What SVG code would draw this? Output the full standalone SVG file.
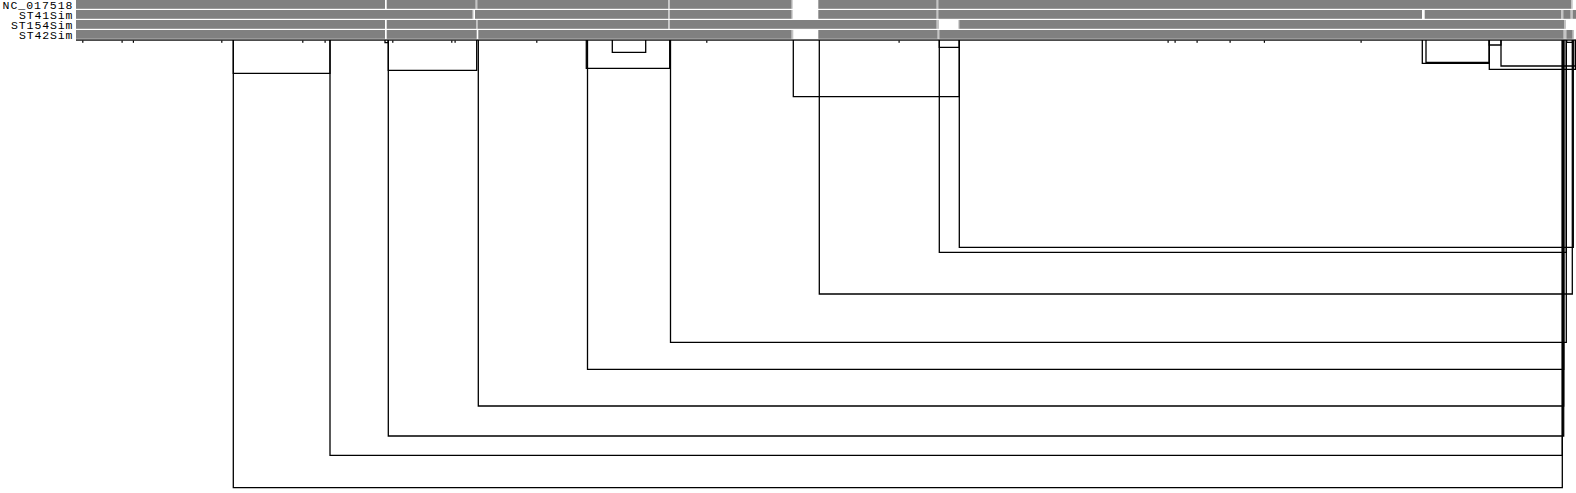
<svg xmlns="http://www.w3.org/2000/svg" width="1576" height="493" viewBox="0 0 1576 493">
<style>
.lbl{font-family:"Liberation Mono","DejaVu Sans Mono",monospace;font-size:11.5px;fill:#000}
.g{fill:#808080}
.lt{fill:#c4c4c4}
.c{fill:none;stroke:#000;stroke-width:1.3}
.tk{fill:#000}
</style>
<rect width="1576" height="493" fill="#fff"/>
<g id="track-NC_017518">
<text class="lbl" x="2.5" y="8.5" textLength="70" lengthAdjust="spacing">NC_017518</text>
<rect class="g" x="76" y="0" width="309" height="8.8"/>
<rect class="g" x="386.7" y="0" width="89" height="8.8"/>
<rect class="lt" x="475.7" y="0" width="1.6" height="8.8"/>
<rect class="g" x="477.3" y="0" width="191" height="8.8"/>
<rect class="lt" x="668.3" y="0" width="1.7" height="8.8"/>
<rect class="g" x="670" y="0" width="121.7" height="8.8"/>
<rect class="lt" x="791.7" y="0" width="1" height="8.8"/>
<rect class="g" x="818.3" y="0" width="118.4" height="8.8"/>
<rect class="lt" x="936.7" y="0" width="1.6" height="8.8"/>
<rect class="g" x="938.3" y="0" width="632.7" height="8.8"/>
<rect class="lt" x="1571" y="0" width="1.7" height="8.8"/>
</g>
<g id="track-ST41Sim">
<text class="lbl" x="19" y="18.5" textLength="53.5" lengthAdjust="spacing">ST41Sim</text>
<rect class="g" x="76" y="10" width="396.7" height="8.8"/>
<rect class="lt" x="472.7" y="10" width="0.8" height="8.8"/>
<rect class="g" x="475" y="10" width="193.3" height="8.8"/>
<rect class="lt" x="668.3" y="10" width="1.7" height="8.8"/>
<rect class="g" x="670" y="10" width="121.7" height="8.8"/>
<rect class="lt" x="791.7" y="10" width="1" height="8.8"/>
<rect class="g" x="818.3" y="10" width="118.4" height="8.8"/>
<rect class="lt" x="936.7" y="10" width="1.6" height="8.8"/>
<rect class="g" x="938.3" y="10" width="483.7" height="8.8"/>
<rect class="g" x="1424.7" y="10" width="136.3" height="8.8"/>
<rect class="lt" x="1561" y="10" width="2.3" height="8.8"/>
<rect class="g" x="1563.3" y="10" width="7.4" height="8.8"/>
<rect class="lt" x="1570.7" y="10" width="2" height="8.8"/>
<rect class="g" x="1572.7" y="10" width="3.3" height="8.8"/>
</g>
<g id="track-ST154Sim">
<text class="lbl" x="11" y="28.5" textLength="61.5" lengthAdjust="spacing">ST154Sim</text>
<rect class="g" x="76" y="20" width="309" height="8.8"/>
<rect class="g" x="386.7" y="20" width="89.3" height="8.8"/>
<rect class="lt" x="476" y="20" width="1.7" height="8.8"/>
<rect class="g" x="477.7" y="20" width="190.6" height="8.8"/>
<rect class="lt" x="668.3" y="20" width="1.7" height="8.8"/>
<rect class="g" x="670" y="20" width="266.7" height="8.8"/>
<rect class="lt" x="936.7" y="20" width="2.3" height="8.8"/>
<rect class="lt" x="958.3" y="20" width="1" height="8.8"/>
<rect class="g" x="959.3" y="20" width="605.2" height="8.8"/>
<rect class="lt" x="1564.5" y="20" width="1.5" height="8.8"/>
</g>
<g id="track-ST42Sim">
<text class="lbl" x="19" y="38.5" textLength="53.5" lengthAdjust="spacing">ST42Sim</text>
<rect class="g" x="76" y="30" width="309" height="8.8"/>
<rect class="g" x="386.7" y="30" width="90" height="8.8"/>
<rect class="g" x="478.3" y="30" width="313.4" height="8.8"/>
<rect class="lt" x="791.7" y="30" width="1.6" height="8.8"/>
<rect class="g" x="818.3" y="30" width="119.4" height="8.8"/>
<rect class="lt" x="937.7" y="30" width="1.6" height="8.8"/>
<rect class="g" x="939.3" y="30" width="624.4" height="8.8"/>
<rect class="lt" x="1563.7" y="30" width="2.3" height="8.8"/>
<rect class="g" x="1566.3" y="30" width="6.4" height="8.8"/>
<rect class="lt" x="1572.7" y="30" width="1.3" height="8.8"/>
</g>
<g id="axis">
<rect x="76" y="39.4" width="1500" height="1.3" fill="#000"/>
<rect class="tk" x="82.2" y="40.5" width="1.2" height="2.3"/>
<rect class="tk" x="121.5" y="40.5" width="1.2" height="2.3"/>
<rect class="tk" x="132.8" y="40.5" width="1.2" height="2.3"/>
<rect class="tk" x="221.2" y="40.5" width="1.2" height="2.3"/>
<rect class="tk" x="302.2" y="40.5" width="1.2" height="2.3"/>
<rect class="tk" x="324.5" y="40.5" width="1.2" height="2.3"/>
<rect class="tk" x="392.2" y="40.5" width="1.2" height="2.3"/>
<rect class="tk" x="451.2" y="40.5" width="1.2" height="2.3"/>
<rect class="tk" x="454.5" y="40.5" width="1.2" height="2.3"/>
<rect class="tk" x="536.2" y="40.5" width="1.2" height="2.3"/>
<rect class="tk" x="706.2" y="40.5" width="1.2" height="2.3"/>
<rect class="tk" x="898.5" y="40.5" width="1.2" height="2.3"/>
<rect class="tk" x="1167.5" y="40.5" width="1.2" height="2.3"/>
<rect class="tk" x="1174.5" y="40.5" width="1.2" height="2.3"/>
<rect class="tk" x="1196.5" y="40.5" width="1.2" height="2.3"/>
<rect class="tk" x="1229.5" y="40.5" width="1.2" height="2.3"/>
<rect class="tk" x="1263.8" y="40.5" width="1.2" height="2.3"/>
<rect class="tk" x="1360.5" y="40.5" width="1.2" height="2.3"/>
</g>
<g id="connectors">
<path class="c" d="M233.3 40V73.3H330V40"/>
<path class="c" d="M385 40V42.7H388.3V40"/>
<path class="c" d="M388.3 40V70.3H476.7V40"/>
<path class="c" d="M586.3 40V68.3H669.7V40"/>
<path class="c" d="M612.3 40V52.3H645.7V40"/>
<path class="c" d="M793.3 40V96.7H959.3V40"/>
<path class="c" d="M939.3 40V47.3H959.3V40"/>
<path class="c" d="M1422.3 40V63.3H1489.3V40"/>
<path class="c" d="M1426 40V62.3H1489.3V40"/>
<path class="c" d="M1489.3 40V45H1501V40"/>
<path class="c" d="M1489.3 40V69.3H1575.4V40"/>
<path class="c" d="M1501 40V66H1575.4V40"/>
<path class="c" d="M1566.7 40V42.3H1572.5V40"/>
<path class="c" d="M233.3 40V487.7H1562.3V40"/>
<path class="c" d="M330 40V455.3H1562.3V40"/>
<path class="c" d="M388.3 40V436H1563.7V40"/>
<path class="c" d="M478.3 40V406H1563.7V40"/>
<path class="c" d="M587.5 40V369.3H1563.7V40"/>
<path class="c" d="M670.5 40V342.3H1566.3V40"/>
<path class="c" d="M819.3 40V294H1572.3V40"/>
<path class="c" d="M939.3 40V252.3H1566.3V40"/>
<path class="c" d="M959.3 40V247.3H1573.3V40"/>
</g>
</svg>
